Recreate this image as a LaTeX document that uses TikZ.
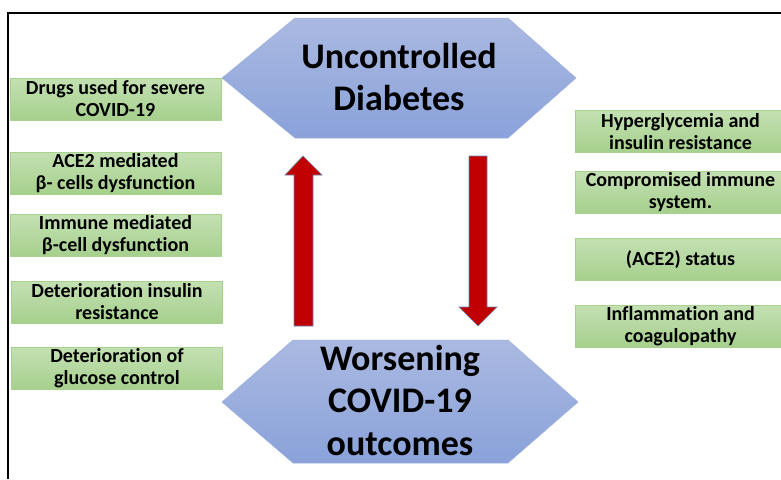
\documentclass[tikz,border=0pt]{standalone}
\usepackage{fontspec}
\setmainfont{Carlito}[Ligatures=NoCommon]
\definecolor{hexTop}{HTML}{AAB9E1}
\definecolor{hexBot}{HTML}{8AA2DA}
\definecolor{hexEdge}{HTML}{9DB0DF}
\definecolor{grTop}{HTML}{C3E0B2}
\definecolor{grBot}{HTML}{A6D08D}
\definecolor{grEdge}{HTML}{A9D18E}
\definecolor{arrRed}{HTML}{C00000}
\definecolor{arrEdge}{HTML}{6B84B0}
\tikzset{
  greenbox/.style={draw=grEdge, line width=0.6pt, top color=grTop, bottom color=grBot,
    minimum width=211pt, minimum height=42pt, inner sep=0pt, align=center,
    font=\fontsize{20}{22}\selectfont\bfseries},
  hexfill/.style={draw=hexEdge, line width=0.5pt, top color=hexTop, bottom color=hexBot},
  hextext/.style={align=center, font=\fontsize{36}{42.5}\selectfont\bfseries},
  redarrow/.style={fill=arrRed, draw=arrEdge, line width=0.6pt, line join=miter},
  frameline/.style={line width=1.6pt, black}
}
\begin{document}
\begin{tikzpicture}[x=1pt,y=-1pt]
\useasboundingbox (0,0) rectangle (781,479);
\clip (0,0) rectangle (781,479);
% frame
\draw[frameline] (781,13) -- (8,13) -- (8,479);
% hexagons
\path[hexfill] (222,78) -- (295,18) -- (508,18) -- (576,78) -- (508,138) -- (295,138) -- cycle;
\node[hextext] (unc) at (399,77) {Uncontrolled\\Diabetes};
\path[hexfill] (222,402) -- (293,340) -- (508,340) -- (578,402) -- (508,463) -- (293,463) -- cycle;
\node[hextext] (wor) at (400,400) {Worsening\\COVID-19\\outcomes};
% arrows
\path[redarrow] (294,326) -- (294,175) -- (285,175) -- (303,156) -- (322,175) -- (313,175) -- (313,326) -- cycle;
\path[redarrow] (469,156) -- (469,307) -- (459,307) -- (478,326) -- (497,307) -- (487,307) -- (487,156) -- cycle;
% left boxes
\node[greenbox] (l1) at (115.5,99) {Drugs used for severe\\COVID-19};
\node[greenbox] (l2) at (115.5,173) {ACE2 mediated\\β- cells dysfunction};
\node[greenbox] (l3) at (115.5,235.5) {Immune mediated\\β-cell dysfunction};
\node[greenbox] (l4) at (117,302) {Deterioration insulin\\resistance};
\node[greenbox] (l5) at (117,368.5) {Deterioration of\\glucose control};
% right boxes
\node[greenbox] (r1) at (680.5,131.5) {Hyperglycemia and\\insulin resistance};
\node[greenbox] (r2) at (680.5,192.5) {Compromised immune\\system.};
\node[greenbox] (r3) at (680.5,259.5) {(ACE2) status};
\node[greenbox] (r4) at (680.5,326) {Inflammation and\\coagulopathy};
\end{tikzpicture}
\end{document}
